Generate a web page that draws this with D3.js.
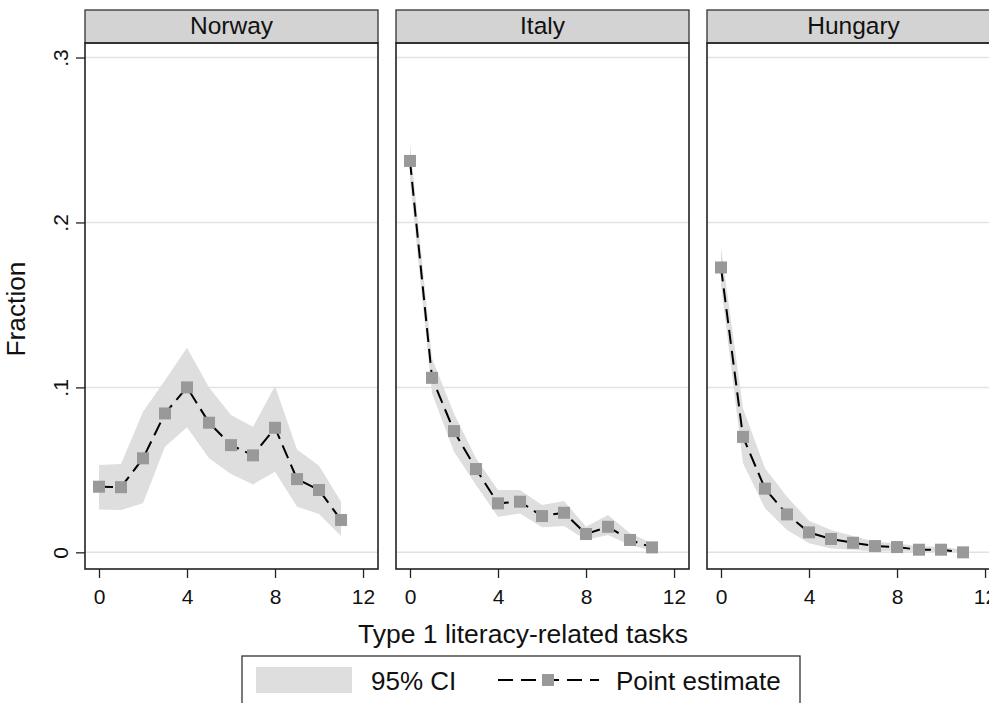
<!DOCTYPE html>
<html>
<head>
<meta charset="utf-8">
<title>Type 1 literacy-related tasks</title>
<script src="https://d3js.org/d3.v7.min.js"></script>
<style>
  body { margin: 0; background: #fff; }
  svg { font-family: "Liberation Sans", Arial, sans-serif; display: block; }
</style>
</head>
<body>
<svg width="989" height="703"></svg>
<script>
// data
var countries = ["Norway", "Italy", "Hungary"];
var tasks = [0, 1, 2, 3, 4, 5, 6, 7, 8, 9, 10, 11];

var norwayEst = [0.0398, 0.0395, 0.057, 0.0842, 0.100, 0.0786, 0.065, 0.0588, 0.0755, 0.0444, 0.0378, 0.0196];
var norwayLo  = [0.026, 0.0256, 0.0297, 0.064, 0.0758, 0.057, 0.0475, 0.0412, 0.0489, 0.0277, 0.0232, 0.0099];
var norwayHi  = [0.0529, 0.0535, 0.0852, 0.1044, 0.124, 0.100, 0.0832, 0.0761, 0.1008, 0.0624, 0.0525, 0.0307];

var italyEst = [0.2373, 0.1058, 0.0735, 0.0505, 0.0297, 0.0307, 0.022, 0.024, 0.0111, 0.0155, 0.0075, 0.003];
var italyLo  = [0.226, 0.0964, 0.061, 0.0408, 0.0216, 0.0236, 0.0152, 0.016, 0.0075, 0.0105, 0.0044, 0.001];
var italyHi  = [0.248, 0.1176, 0.084, 0.057, 0.0378, 0.0378, 0.0287, 0.0311, 0.0155, 0.0226, 0.0115, 0.0055];

var hungaryEst = [0.1727, 0.070, 0.0386, 0.023, 0.0121, 0.0081, 0.0058, 0.0038, 0.0032, 0.0016, 0.0016, 0.0];
var hungaryLo  = [0.162, 0.054, 0.0267, 0.0135, 0.0055, 0.0024, 0.0015, 0.0005, 0.0008, 0.0002, 0.0002, 0.0];
var hungaryHi  = [0.185, 0.0873, 0.051, 0.0337, 0.0192, 0.0135, 0.0099, 0.0064, 0.0055, 0.0035, 0.0035, 0.0015];

var xTicks = [0, 4, 8, 12];
var yTicks = [0, 0.1, 0.2, 0.3];

var series = [
  {name: countries[0], est: norwayEst, lo: norwayLo, hi: norwayHi},
  {name: countries[1], est: italyEst, lo: italyLo, hi: italyHi},
  {name: countries[2], est: hungaryEst, lo: hungaryLo, hi: hungaryHi}
];

// layout
var panelLeft = [85, 396, 707],
    panelW = 293,
    headTop = 10, plotTop = 43, plotBottom = 569;

var ciColor = "#dedede", markColor = "#999999", gridColor = "#e2e2e2";

var svg = d3.select("svg");

var x = d3.scaleLinear().domain([-0.636, 12.68]).range([0, panelW]);
var y = d3.scaleLinear().domain([-0.0101, 0.3088]).range([plotBottom, plotTop]);

var yFmt = function(d) { return d === 0 ? "0" : d3.format(".1f")(d).replace(/^0/, ""); };

series.forEach(function(s, i) {
  var g = svg.append("g").attr("transform", "translate(" + panelLeft[i] + ",0)");

  // header strip
  g.append("rect")
    .attr("x", 0).attr("y", headTop)
    .attr("width", panelW).attr("height", plotTop - headTop)
    .attr("fill", "#d3d3d3").attr("stroke", "#333").attr("stroke-width", 1.3);
  g.append("text")
    .attr("x", panelW / 2).attr("y", 34)
    .attr("text-anchor", "middle")
    .attr("font-size", "24.5px")
    .attr("fill", "#111")
    .text(s.name);

  // grid
  g.append("g").selectAll("line")
    .data(yTicks)
    .enter().append("line")
      .attr("x1", 0).attr("x2", panelW)
      .attr("y1", function(d) { return y(d); })
      .attr("y2", function(d) { return y(d); })
      .attr("stroke", gridColor).attr("stroke-width", 1.5);

  var pts = tasks.map(function(t, k) { return {t: t, est: s.est[k], lo: s.lo[k], hi: s.hi[k]}; });

  // 95% CI band
  var band = d3.area()
    .x(function(d) { return x(d.t); })
    .y0(function(d) { return y(d.lo); })
    .y1(function(d) { return y(d.hi); });
  g.append("path").datum(pts)
    .attr("d", band)
    .attr("fill", ciColor);

  // point estimate line
  var line = d3.line()
    .x(function(d) { return x(d.t); })
    .y(function(d) { return y(d.est); });
  g.append("path").datum(pts)
    .attr("d", line)
    .attr("fill", "none")
    .attr("stroke", "#000")
    .attr("stroke-width", 2)
    .attr("stroke-dasharray", "14,7");

  g.append("g").selectAll("rect")
    .data(pts)
    .enter().append("rect")
      .attr("x", function(d) { return x(d.t) - 6; })
      .attr("y", function(d) { return y(d.est) - 6; })
      .attr("width", 12).attr("height", 12)
      .attr("fill", markColor);

  // plot border
  g.append("rect")
    .attr("x", 0).attr("y", plotTop)
    .attr("width", panelW).attr("height", plotBottom - plotTop)
    .attr("fill", "none").attr("stroke", "#222").attr("stroke-width", 1.6);

  // x axis
  var xa = g.append("g")
    .attr("transform", "translate(0," + plotBottom + ")")
    .call(d3.axisBottom(x).tickValues(xTicks).tickSize(9).tickPadding(6).tickFormat(d3.format("d")));
  xa.select(".domain").remove();
  xa.selectAll("line").attr("stroke", "#222").attr("stroke-width", 1.3);
  xa.selectAll("text")
    .attr("font-size", "21px")
    .attr("font-family", "Liberation Sans, Arial, sans-serif")
    .attr("fill", "#111")
    .attr("dy", null)
    .attr("y", 34.5);

  // y axis only on first panel
  if (i === 0) {
    var ya = g.append("g")
      .call(d3.axisLeft(y).tickValues(yTicks).tickSize(9).tickFormat(yFmt));
    ya.select(".domain").remove();
    ya.selectAll("line").attr("stroke", "#222").attr("stroke-width", 1.3);
    ya.selectAll("text")
      .attr("font-size", "21px")
      .attr("font-family", "Liberation Sans, Arial, sans-serif")
      .attr("fill", "#111")
      .attr("transform", "rotate(-90)")
      .attr("text-anchor", "middle")
      .attr("x", 0).attr("dy", null)
      .attr("y", -17);
  }
});

// axis titles
svg.append("text")
  .attr("transform", "translate(25,309) rotate(-90)")
  .attr("text-anchor", "middle")
  .attr("font-size", "26.3px")
  .attr("fill", "#111")
  .text("Fraction");

svg.append("text")
  .attr("x", 523).attr("y", 643)
  .attr("text-anchor", "middle")
  .attr("font-size", "26.5px")
  .attr("fill", "#111")
  .text("Type 1 literacy-related tasks");

// legend
var lg = svg.append("g");
lg.append("rect")
  .attr("x", 242).attr("y", 656)
  .attr("width", 558).attr("height", 60)
  .attr("fill", "#fff").attr("stroke", "#333").attr("stroke-width", 1.3);
lg.append("rect")
  .attr("x", 256).attr("y", 667)
  .attr("width", 96).attr("height", 26)
  .attr("fill", ciColor);
lg.append("text")
  .attr("x", 371).attr("y", 690)
  .attr("font-size", "26px").attr("fill", "#111")
  .text("95% CI");
lg.append("line")
  .attr("x1", 498).attr("x2", 599)
  .attr("y1", 680).attr("y2", 680)
  .attr("stroke", "#000").attr("stroke-width", 2)
  .attr("stroke-dasharray", "15,8");
lg.append("rect")
  .attr("x", 542).attr("y", 674)
  .attr("width", 12).attr("height", 12)
  .attr("fill", markColor);
lg.append("text")
  .attr("x", 616).attr("y", 690)
  .attr("font-size", "26px").attr("fill", "#111")
  .text("Point estimate");
</script>
</body>
</html>
